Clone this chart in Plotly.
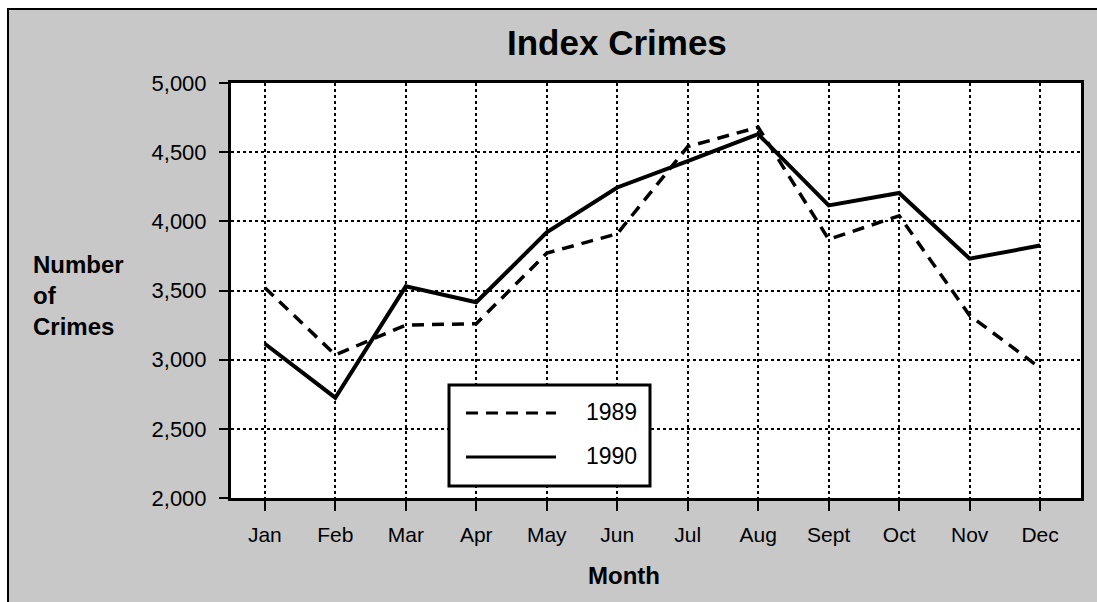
import plotly.graph_objects as go

# Données
months = ['Jan', 'Feb', 'Mar', 'Apr', 'May', 'Jun', 'Jul', 'Aug', 'Sept', 'Oct', 'Nov', 'Dec']
crimes_1989 = [3520, 3035, 3250, 3260, 3770, 3910, 4540, 4680, 3870, 4040, 3320, 2940]
crimes_1990 = [3115, 2725, 3530, 3415, 3920, 4245, 4435, 4630, 4115, 4205, 3730, 3825]
y_ticks = [2000, 2500, 3000, 3500, 4000, 4500, 5000]
y_labels = ['2,000', '2,500', '3,000', '3,500', '4,000', '4,500', '5,000']

W, H = 1097, 602
ML, MR, MT, MB = 231, 16, 83, 104
PW, PH = W - ML - MR, H - MT - MB


def px_x(p):
    return (p - ML) / PW


def px_y(p):
    return (H - MB - p) / PH


FONT = 'Liberation Sans, Arial, sans-serif'
GREY = '#c8c8c8'

fig = go.Figure()
fig.add_trace(go.Scatter(x=months, y=crimes_1989, mode='lines', name='1989',
                         line=dict(color='black', width=3.5, dash='12px,8px')))
fig.add_trace(go.Scatter(x=months, y=crimes_1990, mode='lines', name='1990',
                         line=dict(color='black', width=4)))

shapes = [
    # fond gris tramé + cadre extérieur
    dict(type='rect', xref='paper', yref='paper', layer='below',
         x0=px_x(8), x1=px_x(W + 5), y0=px_y(H + 5), y1=px_y(9),
         fillcolor=GREY, line=dict(color='black', width=2)),
    # zone du graphe en blanc
    dict(type='rect', xref='paper', yref='paper', layer='below',
         x0=0, x1=1, y0=0, y1=1, fillcolor='white', line=dict(width=0)),
    # légende
    dict(type='rect', xref='paper', yref='paper',
         x0=px_x(449), x1=px_x(650), y0=px_y(486), y1=px_y(385),
         fillcolor='white', line=dict(color='black', width=3)),
    dict(type='line', xref='paper', yref='paper',
         x0=px_x(466), x1=px_x(556), y0=px_y(413), y1=px_y(413),
         line=dict(color='black', width=3, dash='12px,8px')),
    dict(type='line', xref='paper', yref='paper',
         x0=px_x(466), x1=px_x(556), y0=px_y(457), y1=px_y(457),
         line=dict(color='black', width=3)),
]


def label(text, x, y, size, xanchor='center', align='center'):
    return dict(text=text, xref='paper', yref='paper', x=px_x(x), y=px_y(y),
                xanchor=xanchor, yanchor='middle', align=align, showarrow=False,
                font=dict(size=size, family=FONT, color='black'))


annotations = [
    label('<b>Index Crimes</b>', 617, 42, 35),
    label('<b>Number<br>of<br>Crimes</b>', 31, 295, 24, xanchor='left', align='left'),
    label('<b>Month</b>', 624, 575, 24),
    label('1989', 639, 412, 23, xanchor='right'),
    label('1990', 639, 456, 23, xanchor='right'),
]

fig.update_layout(
    width=W, height=H,
    margin=dict(l=ML, r=MR, t=MT, b=MB),
    paper_bgcolor='white', plot_bgcolor='rgba(0,0,0,0)',
    showlegend=False,
    shapes=shapes, annotations=annotations,
    font=dict(family=FONT, color='black'),
)
fig.update_xaxes(range=[-0.48, 11.58], showgrid=True, gridcolor='black', griddash='dot',
                 gridwidth=1.5, showline=True, linecolor='black', linewidth=3, mirror=True,
                 ticks='outside', ticklen=10, tickwidth=2, tickcolor='black',
                 ticklabelstandoff=6, tickfont=dict(size=21, family=FONT), zeroline=False)
fig.update_yaxes(range=[2000, 5000], tickvals=y_ticks, ticktext=y_labels, showgrid=True,
                 gridcolor='black', griddash='dot', gridwidth=1.5, showline=True,
                 linecolor='black', linewidth=3, mirror=True, ticks='outside', ticklen=9,
                 tickwidth=2, tickcolor='black', ticklabelstandoff=8,
                 tickfont=dict(size=22, family=FONT), zeroline=False)

# marge du body à zéro pour que la figure colle au bord de la fenêtre
fig.write_html('out.html', config={'displayModeBar': False},
               post_script="document.body.style.margin='0';")
